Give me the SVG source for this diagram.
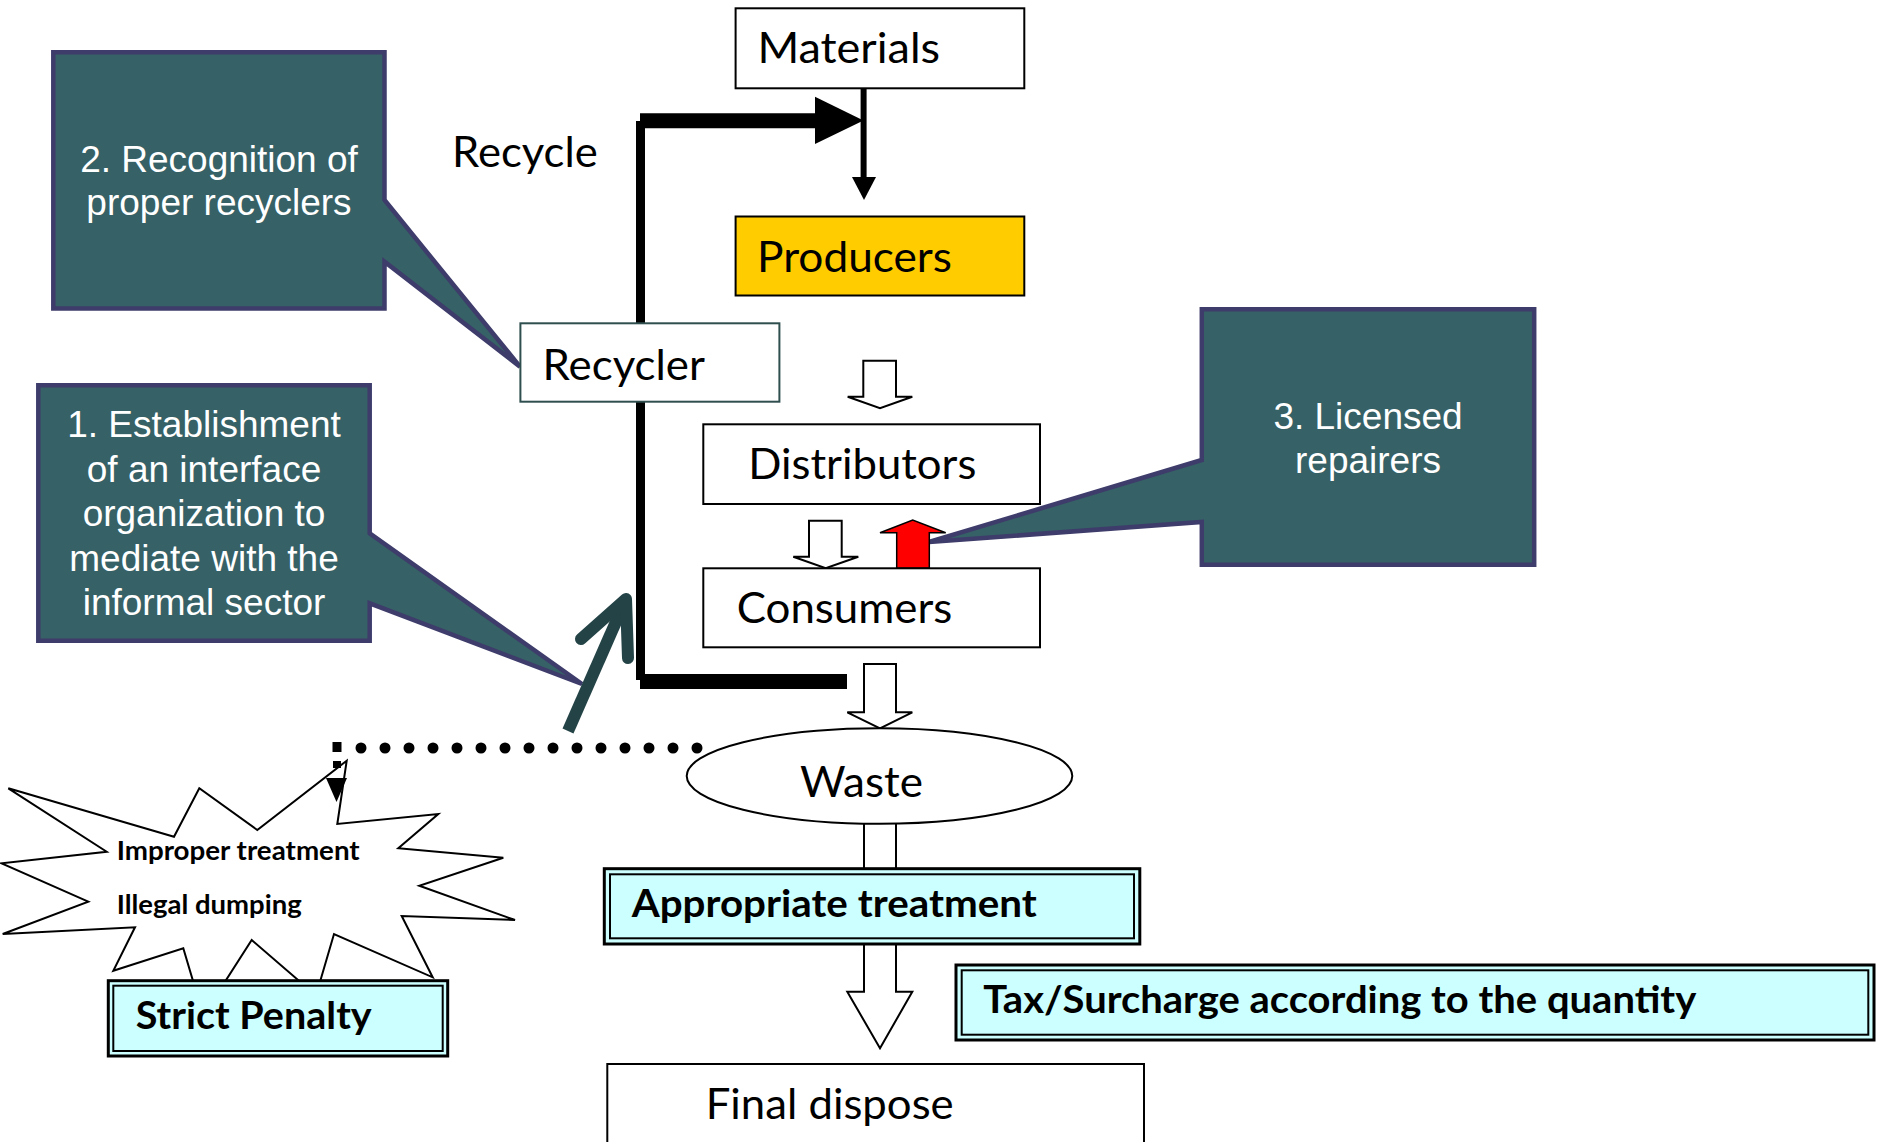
<svg xmlns="http://www.w3.org/2000/svg" width="1878" height="1142" viewBox="0 0 1878 1142">
  <style>
    .box{fill:#fff;stroke:#000;stroke-width:2}
    .lbl{font-family:Lato,"Liberation Sans",sans-serif;font-size:43px;fill:#000}
    .blbl{font-family:Lato,"Liberation Sans",sans-serif;font-weight:700;font-size:38.5px;fill:#000}
    .small{font-size:26.5px}
    .callout{fill:#366166;stroke:#3E3C6A;stroke-width:4.5;stroke-linejoin:miter}
    .ctext{font-family:"Liberation Sans",Arial,sans-serif;font-size:37px;fill:#fff;text-anchor:middle}
    .hollow{fill:#fff;stroke:#000;stroke-width:2;stroke-linejoin:miter}
    .outer{fill:#CCFFFF;stroke:#000;stroke-width:3}
    .inner{fill:none;stroke:#000;stroke-width:2}
    .thick{stroke:#000;fill:none}
  </style>

  <rect width="1878" height="1142" fill="#fff"/>

  <!-- policy callouts -->
  <g id="callout-recognition">
    <path class="callout" d="M53.3 52.3 H384.5 V200 L520 366.7 L384.5 261.7 V308.4 H53.3 Z"/>
    <text class="ctext" x="219" y="171.7">2. Recognition of</text>
    <text class="ctext" x="219" y="215.3">proper recyclers</text>
  </g>

  <g id="callout-interface">
    <path class="callout" d="M38.3 385.3 H369.7 V533.3 L582 684 L369.7 603.3 V640.7 H38.3 Z"/>
    <text class="ctext" x="204" y="437">1. Establishment</text>
    <text class="ctext" x="204" y="481.5">of an interface</text>
    <text class="ctext" x="204" y="526">organization to</text>
    <text class="ctext" x="204" y="570.5">mediate with the</text>
    <text class="ctext" x="204" y="615">informal sector</text>
  </g>

  <g id="callout-repairers">
    <path class="callout" d="M1201.8 309.2 H1534.2 V564.8 H1201.8 V522 L929 542 L1201.8 460 Z"/>
    <text class="ctext" x="1368" y="429.3">3. Licensed</text>
    <text class="ctext" x="1368" y="472.5">repairers</text>
  </g>

  <!-- starburst for improper disposal -->
  <g id="improper-burst">
    <polygon fill="#fff" stroke="#000" stroke-width="2" stroke-linejoin="miter"
      points="8.3,788.3 174,836.7 199.3,788.3 257.3,830 346.7,760.7 337.3,824 438.3,814 398.3,848.3 503.3,857.7 419.3,885.7 515,920 401.7,916 432.7,977.3 334,934 316,995.5 251.7,940 203.3,1015.6 183.3,948.3 113.3,970.7 135,927.3 2.7,934 88.3,901.7 1.7,863.3 106.7,851.7"/>
    <text class="blbl small" x="116.7" y="860" textLength="243" lengthAdjust="spacingAndGlyphs">Improper treatment</text>
    <text class="blbl small" x="116.7" y="914" textLength="185" lengthAdjust="spacingAndGlyphs">Illegal dumping</text>
  </g>

  <!-- flow connectors -->
  <g id="connectors">
    <!-- recycle loop -->
    <line class="thick" x1="640.5" y1="121" x2="640.5" y2="680" stroke-width="9"/>
    <line class="thick" x1="640" y1="120.8" x2="817" y2="120.8" stroke-width="15"/>
    <polygon points="815,96.7 863.5,120.5 815,144" fill="#000"/>
    <line class="thick" x1="640" y1="681.5" x2="847" y2="681.5" stroke-width="15"/>

    <!-- materials to producers -->
    <line x1="863.6" y1="88" x2="863.6" y2="180" stroke="#000" stroke-width="6"/>
    <polygon points="852,177 876,177 864,200" fill="#000"/>

    <!-- block arrows -->
    <path class="hollow" d="M863.3 360.7 H896 V396.7 H912.3 L880 408.3 L847.7 396.7 H863.3 Z"/>
    <path class="hollow" d="M809 520.7 H841.7 V556.7 H858.3 L825.7 568.3 L793.3 556.7 H809 Z"/>
    <path class="hollow" d="M864 664 H896 V712.3 H912.3 L880 728.3 L847.3 712.3 H864 Z"/>
    <path class="hollow" d="M864 816 H896 V991.7 H912.3 L880 1048.3 L847.3 991.7 H864 Z"/>

    <!-- repair return -->
    <path d="M896.7 568.3 V532.7 H880 L912.7 520 L945.7 532.7 H929.3 V568.3 Z" fill="#FF0000" stroke="#000" stroke-width="1.5"/>

    <!-- informal sector leak -->
    <path d="M697 748 H337" fill="none" stroke="#000" stroke-width="11" stroke-linecap="round" stroke-dasharray="0 24"/>
    <line x1="337" y1="742" x2="337" y2="752" stroke="#000" stroke-width="9"/>
    <rect x="333" y="761" width="8" height="7" fill="#000"/>
    <polygon points="326,778 347,778 336.5,802" fill="#000"/>

    <!-- mediation arrow -->
    <line x1="568" y1="731" x2="626" y2="599" stroke="#244346" stroke-width="12"/>
    <polyline points="581,639 626,599 628,658" fill="none" stroke="#244346" stroke-width="12" stroke-linecap="round" stroke-linejoin="round"/>
  </g>

  <!-- flow nodes -->
  <g id="materials">
    <rect class="box" x="735.6" y="8.3" width="288.7" height="80"/>
    <text class="lbl" x="757.4" y="63.3" textLength="182.6" lengthAdjust="spacingAndGlyphs">Materials</text>
  </g>

  <g id="producers">
    <rect class="box" x="735.6" y="216.5" width="288.7" height="79" style="fill:#FFCC00"/>
    <text class="lbl" x="757" y="271.7" textLength="195" lengthAdjust="spacingAndGlyphs">Producers</text>
  </g>

  <g id="recycle-label">
    <text class="lbl" x="452" y="166.7" textLength="145.7" lengthAdjust="spacingAndGlyphs">Recycle</text>
  </g>

  <g id="recycler">
    <rect x="520.4" y="323.3" width="259" height="78.4" fill="#fff" stroke="#2F4F4F" stroke-width="2"/>
    <text class="lbl" x="542.6" y="380" textLength="162.3" lengthAdjust="spacingAndGlyphs">Recycler</text>
  </g>

  <g id="distributors">
    <rect class="box" x="703.3" y="424.3" width="336.7" height="79.7"/>
    <text class="lbl" x="748.3" y="479.3" textLength="228" lengthAdjust="spacingAndGlyphs">Distributors</text>
  </g>

  <g id="consumers">
    <rect class="box" x="703.3" y="568.3" width="336.7" height="79"/>
    <text class="lbl" x="736.7" y="623.3" textLength="215.6" lengthAdjust="spacingAndGlyphs">Consumers</text>
  </g>

  <g id="waste">
    <ellipse cx="879.5" cy="776" rx="192.8" ry="47.8" fill="#fff" stroke="#000" stroke-width="2"/>
    <text class="lbl" x="800" y="797.3" textLength="123" lengthAdjust="spacingAndGlyphs">Waste</text>
  </g>

  <g id="appropriate-treatment">
    <rect class="outer" x="604.3" y="868.7" width="535.5" height="75.3"/>
    <rect class="inner" x="610" y="874.3" width="524" height="64"/>
    <text class="blbl" x="631.7" y="916.7" textLength="405" lengthAdjust="spacingAndGlyphs">Appropriate treatment</text>
  </g>

  <g id="tax-surcharge">
    <rect class="outer" x="956" y="965" width="918" height="75"/>
    <rect class="inner" x="961.7" y="970.3" width="906.6" height="64.4"/>
    <text class="blbl" x="983.3" y="1012.7" textLength="713" lengthAdjust="spacingAndGlyphs">Tax/Surcharge according to the quantity</text>
  </g>

  <g id="strict-penalty">
    <rect class="outer" x="108.3" y="980.7" width="339.4" height="75.3"/>
    <rect class="inner" x="113.3" y="985.7" width="329.4" height="65.3"/>
    <text class="blbl" x="135.7" y="1029.3" textLength="236" lengthAdjust="spacingAndGlyphs">Strict Penalty</text>
  </g>

  <g id="final-dispose">
    <rect class="box" x="607.3" y="1064" width="536.7" height="100"/>
    <text class="lbl" x="705.7" y="1119" textLength="248" lengthAdjust="spacingAndGlyphs">Final dispose</text>
  </g>
</svg>
